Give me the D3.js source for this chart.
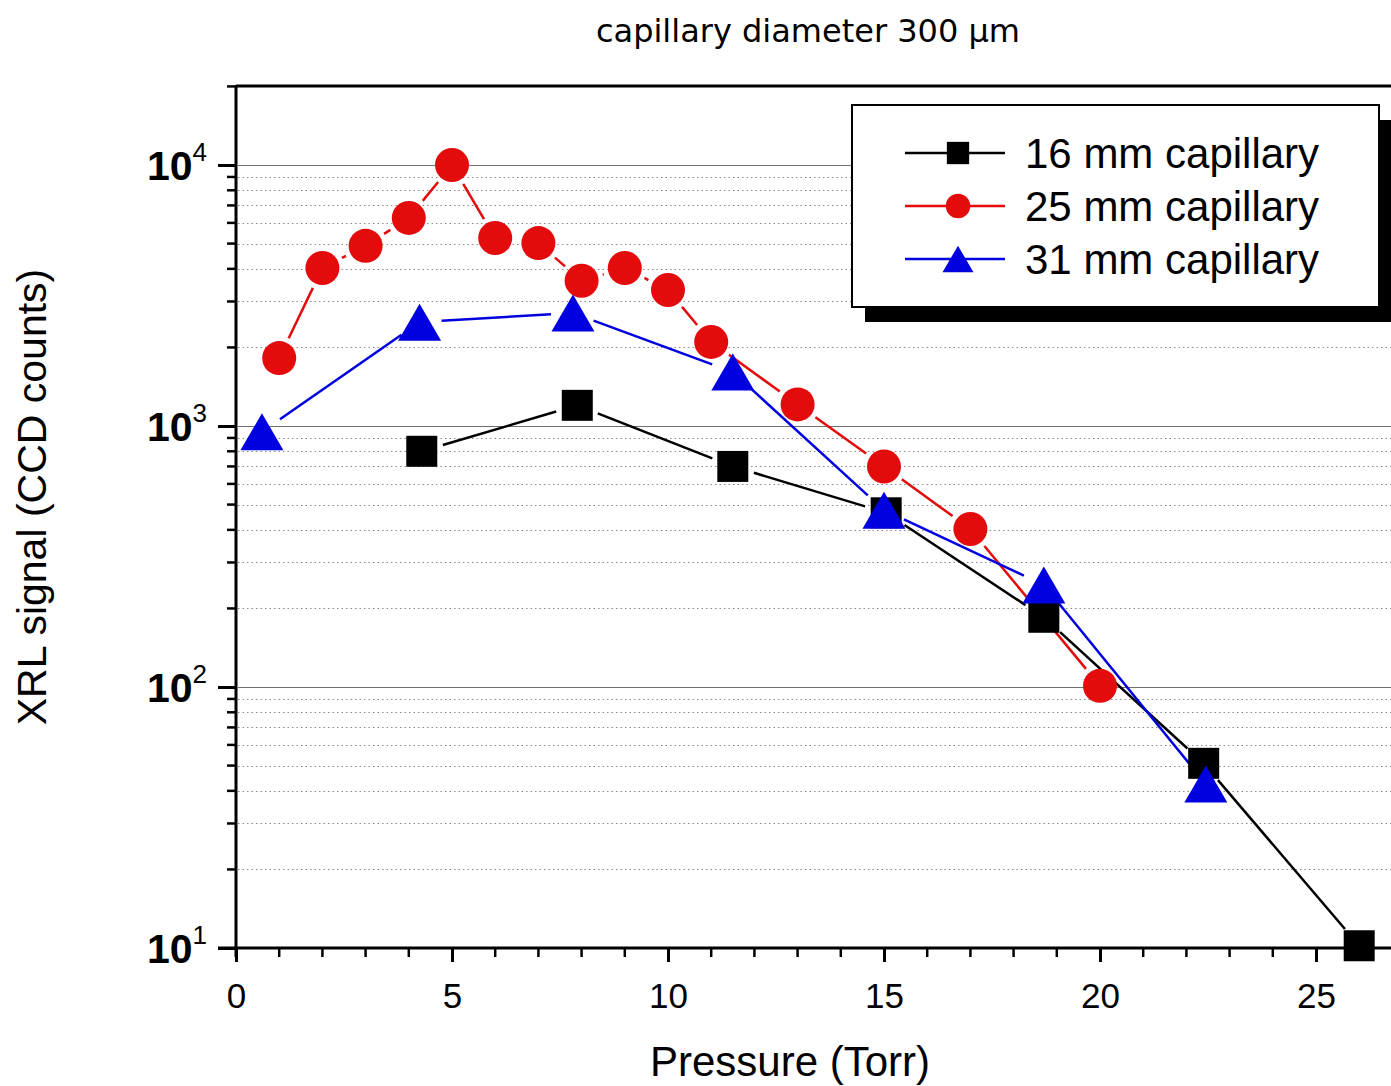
<!DOCTYPE html>
<html><head><meta charset="utf-8">
<script src="https://cdn.jsdelivr.net/npm/d3@7"></script>
<style>body{margin:0;background:#fff;} svg{display:block;}</style>
</head><body>
<script>
// ---- data ----
const seriesNames = ["16 mm capillary", "25 mm capillary", "31 mm capillary"];
const p16 = [4.3, 7.9, 11.5, 15.05, 18.7, 22.4, 26.0];
const v16 = [800, 1200, 700, 465, 185, 51, 10.2];
const p25 = [1, 2, 3, 4, 5, 6, 7, 8, 9, 10, 11, 13, 15, 17, 20];
const v25 = [1820, 4030, 4900, 6270, 10000, 5250, 5020, 3600, 4030, 3320, 2100, 1210, 700, 403, 101];
const p31 = [0.6, 4.25, 7.8, 11.5, 15.0, 18.7, 22.45];
const v31 = [950, 2500, 2710, 1610, 476, 246, 42.5];
const xTicks = [0, 5, 10, 15, 20, 25];
const yTicks = [10, 100, 1000, 10000];
const yTickExp = ["1", "2", "3", "4"];
const colors = ["#000000", "#e30b0b", "#0000e0"];
const shapes = ["square", "circle", "triangle"];

const W = 1391, H = 1086;
const svg = d3.select("body").append("svg").attr("width", W).attr("height", H);

const x = d3.scaleLinear().domain([0, 27]).range([236, 236 + 27 * 43.2]);
const y = d3.scaleLog().domain([10, 10 * Math.pow(10, (948 - 86) / 261)]).range([948, 86]);

// minor grid
const minorVals = [];
[10, 100, 1000, 10000].forEach(d => { for (let k = 2; k <= 9; k++) { const v = d * k; if (v < y.domain()[1]) minorVals.push(v); } });
svg.append("g").selectAll("line").data(minorVals).join("line")
  .attr("x1", 238).attr("x2", W).attr("y1", d => Math.round(y(d)) + 0.5).attr("y2", d => Math.round(y(d)) + 0.5)
  .attr("stroke", "#8a8a8a").attr("stroke-width", 1).attr("stroke-dasharray", "1.5,3");
// major grid
svg.append("g").selectAll("line").data([100, 1000, 10000]).join("line")
  .attr("x1", 238).attr("x2", W).attr("y1", d => Math.round(y(d)) + 0.5).attr("y2", d => Math.round(y(d)) + 0.5)
  .attr("stroke", "#707070").attr("stroke-width", 1.2);

// top border
svg.append("line").attr("x1", 236).attr("x2", W).attr("y1", 86).attr("y2", 86).attr("stroke", "#000").attr("stroke-width", 3);

// axes
const xAxis = d3.axisBottom(x).tickValues(xTicks).tickSize(14).tickFormat(d3.format("d"));
const gx = svg.append("g").attr("transform", "translate(0,948)").call(xAxis);
gx.select(".domain").remove();
gx.selectAll(".tick line").attr("stroke-width", 3);
gx.selectAll(".tick text").attr("font-family", "Liberation Sans, Arial, sans-serif").attr("font-size", 35).attr("dy", 0).attr("y", 60).attr("fill", "#000");
const xMinor = d3.range(0, 27, 1).filter(d => d % 5 !== 0);
svg.append("g").selectAll("line").data(xMinor).join("line")
  .attr("x1", d => x(d)).attr("x2", d => x(d)).attr("y1", 948).attr("y2", 957)
  .attr("stroke", "#000").attr("stroke-width", 2.5);
svg.append("line").attr("x1", 218).attr("x2", W).attr("y1", 948).attr("y2", 948).attr("stroke", "#000").attr("stroke-width", 3);

const yAxis = d3.axisLeft(y).tickValues(yTicks).tickSize(18).tickFormat("");
const gy = svg.append("g").attr("transform", "translate(236,0)").call(yAxis);
gy.select(".domain").remove();
gy.selectAll(".tick line").attr("stroke-width", 3);
svg.append("g").selectAll("line").data(minorVals).join("line")
  .attr("x1", 227).attr("x2", 236).attr("y1", d => y(d)).attr("y2", d => y(d))
  .attr("stroke", "#000").attr("stroke-width", 2.5);
svg.append("line").attr("x1", 236).attr("x2", 236).attr("y1", 85).attr("y2", 957).attr("stroke", "#000").attr("stroke-width", 3);

// y tick labels 10^n
const yl = svg.append("g").selectAll("text").data(yTicks).join("text")
  .attr("x", 207).attr("y", d => y(d) + 15)
  .attr("text-anchor", "end")
  .attr("font-family", "Liberation Sans, Arial, sans-serif");
yl.append("tspan").attr("font-size", 41).attr("font-weight", "bold").text("10");
yl.append("tspan").attr("font-size", 26).attr("dy", -19).text((d, i) => yTickExp[i]);

// series lines with gaps
const allSeries = [
  { p: p16, v: v16 }, { p: p25, v: v25 }, { p: p31, v: v31 }
];
const gap = 22;
allSeries.forEach((s, si) => {
  const pts = s.p.map((p, i) => [x(p), y(s.v[i])]);
  const segs = [];
  for (let i = 0; i < pts.length - 1; i++) {
    const [x1, y1] = pts[i], [x2, y2] = pts[i + 1];
    const L = Math.hypot(x2 - x1, y2 - y1);
    if (L > 2 * gap) {
      const ux = (x2 - x1) / L, uy = (y2 - y1) / L;
      segs.push([x1 + ux * gap, y1 + uy * gap, x2 - ux * gap, y2 - uy * gap]);
    }
  }
  svg.append("g").selectAll("line").data(segs).join("line")
    .attr("x1", d => d[0]).attr("y1", d => d[1]).attr("x2", d => d[2]).attr("y2", d => d[3])
    .attr("stroke", colors[si]).attr("stroke-width", 2.5);
});

function drawMarker(g, shape, cx, cy, color, scale) {
  scale = scale || 1;
  if (shape === "square") {
    const s = 31 * scale;
    g.append("rect").attr("x", cx - s / 2).attr("y", cy - s / 2).attr("width", s).attr("height", s).attr("fill", color);
  } else if (shape === "circle") {
    g.append("circle").attr("cx", cx).attr("cy", cy).attr("r", 17 * scale).attr("fill", color);
  } else {
    const w = 43 * scale, h = 37 * scale;
    g.append("path").attr("d", `M${cx},${cy - h / 2}L${cx + w / 2},${cy + h / 2}L${cx - w / 2},${cy + h / 2}Z`).attr("fill", color);
  }
}
allSeries.forEach((s, si) => {
  const g = svg.append("g");
  s.p.forEach((p, i) => drawMarker(g, shapes[si], x(p), y(s.v[i]), colors[si]));
});

// legend
const lg = svg.append("g");
lg.append("rect").attr("x", 865).attr("y", 120).attr("width", 540).attr("height", 202).attr("fill", "#000");
lg.append("rect").attr("x", 852).attr("y", 105).attr("width", 527).attr("height", 202).attr("fill", "#fff").attr("stroke", "#000").attr("stroke-width", 2);
seriesNames.forEach((name, i) => {
  const cy = 153 + i * 53;
  lg.append("line").attr("x1", 905).attr("x2", 1005).attr("y1", cy).attr("y2", cy).attr("stroke", colors[i]).attr("stroke-width", 2.5);
  drawMarker(lg, shapes[i], 958, cy, colors[i], 0.72);
  lg.append("text").attr("x", 1025).attr("y", cy + 15).attr("font-family", "Liberation Sans, Arial, sans-serif").attr("font-size", 42).text(name);
});

// titles
svg.append("text").attr("x", 808).attr("y", 42).attr("text-anchor", "middle")
  .attr("font-family", "DejaVu Sans, Verdana, sans-serif").attr("font-size", 32).text("capillary diameter 300 μm");
svg.append("text").attr("x", 790).attr("y", 1076).attr("text-anchor", "middle")
  .attr("font-family", "Liberation Sans, Arial, sans-serif").attr("font-size", 42).text("Pressure (Torr)");
svg.append("text").attr("transform", "translate(46,497) rotate(-90)").attr("text-anchor", "middle")
  .attr("font-family", "Liberation Sans, Arial, sans-serif").attr("font-size", 41).text("XRL signal (CCD counts)");
</script>
</body></html>
